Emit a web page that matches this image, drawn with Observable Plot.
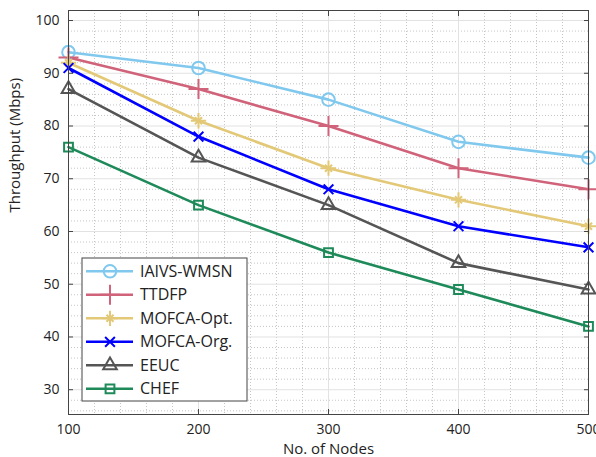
<!DOCTYPE html>
<html><head><meta charset="utf-8">
<script src="https://cdn.jsdelivr.net/npm/d3@7"></script>
<script src="https://cdn.jsdelivr.net/npm/@observablehq/plot@0.6"></script>
<style>
html,body{margin:0;padding:0;background:#fff;}
#chart{position:relative;width:596px;height:457px;}
#legend{position:absolute;left:0;top:0;pointer-events:none;}
</style></head><body><div id="chart"></div>
<script>
const nodes = [100, 200, 300, 400, 500];
const seriesNames = ["IAIVS-WMSN", "TTDFP", "MOFCA-Opt.", "MOFCA-Org.", "EEUC", "CHEF"];
const iaivs    = [94, 91, 85, 77, 74];
const ttdfp    = [93, 87, 80, 72, 68];
const mofcaOpt = [92, 81, 72, 66, 61];
const mofcaOrg = [91, 78, 68, 61, 57];
const eeuc     = [87, 74, 65, 54, 49];
const chef     = [76, 65, 56, 49, 42];
const xTicks = [100, 200, 300, 400, 500];
const yTicks = [30, 40, 50, 60, 70, 80, 90, 100];
const xMinor = [120, 140, 160, 180, 220, 240, 260, 280, 320, 340, 360, 380, 420, 440, 460, 480];
const yMinor = [26, 28, 32, 34, 36, 38, 42, 44, 46, 48, 52, 54, 56, 58, 62, 64, 66, 68, 72, 74, 76, 78, 82, 84, 86, 88, 92, 94, 96, 98];

const colors = ["#80c8ee", "#d0637a", "#e3c977", "#0000ff", "#555555", "#1e8a5a"];
const values = [iaivs, ttdfp, mofcaOpt, mofcaOrg, eeuc, chef];
const markers = [
  [{symbol: "circle", r: 6.3}],
  [{symbol: "plus", r: 6.5}],
  [{symbol: "plus", r: 5}, {symbol: "times", r: 3.3}],
  [{symbol: "times", r: 4.5}],
  [{symbol: "triangle2", r: 6.5}],
  [{symbol: "square2", r: 5.6}]
];

const data = [];
seriesNames.forEach((s, i) => values[i].forEach((v, j) => data.push({series: s, nodes: nodes[j], tp: v})));

const marks = [
  Plot.ruleX(xMinor, {stroke: "#b8b8b8", strokeWidth: 0.8, strokeDasharray: "1,2"}),
  Plot.ruleY(yMinor, {stroke: "#b8b8b8", strokeWidth: 0.8, strokeDasharray: "1,2"}),
  Plot.ruleX(xTicks, {stroke: "#e2e2e2", strokeWidth: 1}),
  Plot.ruleY(yTicks, {stroke: "#e2e2e2", strokeWidth: 1}),
  Plot.line(data, {x: "nodes", y: "tp", z: "series", stroke: "series", strokeWidth: 2.6})
];
seriesNames.forEach((s, i) => {
  markers[i].forEach(m => {
    marks.push(Plot.dot(data.filter(d => d.series === s), {x: "nodes", y: "tp", symbol: m.symbol, r: m.r, stroke: colors[i], strokeWidth: 2, fill: "none"}));
  });
});
marks.push(
  Plot.frame({stroke: "#444", strokeWidth: 1}),
  Plot.axisX(xTicks, {anchor: "bottom", tickSize: -5, tickPadding: 15, label: null, tickFormat: d => d, fontSize: 14, stroke: "#444"}),
  Plot.axisX(xTicks, {anchor: "top", tickSize: -5, label: null, tickFormat: () => "", stroke: "#444"}),
  Plot.axisY(yTicks, {anchor: "left", tickSize: -5, tickPadding: 14, label: null, tickFormat: d => d, fontSize: 14, stroke: "#444"}),
  Plot.axisY(yTicks, {anchor: "right", tickSize: -5, label: null, tickFormat: () => "", stroke: "#444"}),
  Plot.text(["No. of Nodes"], {frameAnchor: "bottom", dy: 39, fontSize: 15, fill: "#222"}),
  Plot.text(["Throughput (Mbps)"], {frameAnchor: "left", dx: -53, rotate: -90, fontSize: 15, fill: "#222"})
);

const chart = Plot.plot({
  width: 596, height: 457,
  marginLeft: 68, marginRight: 8, marginTop: 10, marginBottom: 43,
  style: {fontFamily: "Open Sans", fontSize: "14px", color: "#222", background: "#fff"},
  x: {domain: [100, 500]},
  y: {domain: [25.3, 101.9]},
  color: {domain: seriesNames, range: colors},
  marks
});
const container = document.getElementById("chart");
container.appendChild(chart);

// legend overlay
const symMap = {circle: d3.symbolCircle, plus: d3.symbolPlus, times: d3.symbolTimes, triangle2: d3.symbolTriangle2, square2: d3.symbolSquare2};
const svg = d3.select(container).append("svg").attr("id", "legend").attr("width", 596).attr("height", 457);
svg.append("rect").attr("x", 82).attr("y", 258).attr("width", 165).attr("height", 143)
  .attr("fill", "#fff").attr("stroke", "#444").attr("stroke-width", 1);
seriesNames.forEach((s, i) => {
  const cy = 271.3 + i * 23.5;
  const g = svg.append("g");
  g.append("line").attr("x1", 86).attr("x2", 133).attr("y1", cy).attr("y2", cy)
    .attr("stroke", colors[i]).attr("stroke-width", 2.6);
  markers[i].forEach(m => {
    g.append("path").attr("d", d3.symbol(symMap[m.symbol], m.r * m.r * Math.PI)())
      .attr("transform", `translate(110,${cy})`).attr("fill", "none")
      .attr("stroke", colors[i]).attr("stroke-width", 2);
  });
  g.append("text").attr("x", 140).attr("y", cy).attr("dy", "0.35em")
    .attr("font-family", "Open Sans").attr("font-size", 16).attr("fill", "#222").text(s);
});
</script></body></html>
